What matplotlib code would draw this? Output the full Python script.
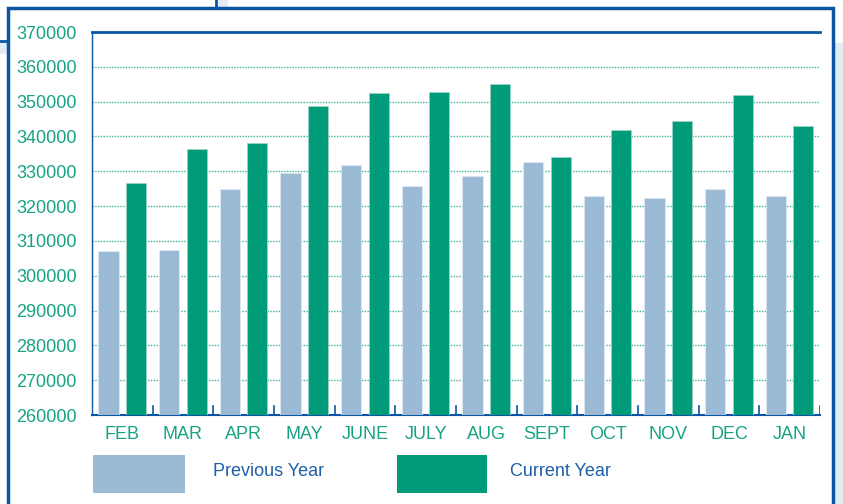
import matplotlib
matplotlib.use('Agg')
import matplotlib.pyplot as plt
import matplotlib.patches as mpatches
from matplotlib.lines import Line2D
import numpy as np

plt.rcParams['font.family'] = ['Liberation Sans', 'DejaVu Sans']

months = ['FEB', 'MAR', 'APR', 'MAY', 'JUNE', 'JULY', 'AUG', 'SEPT',
          'OCT', 'NOV', 'DEC', 'JAN']
previous_year = [307100, 307300, 324900, 329500, 331800, 325800,
                 328700, 332600, 322900, 322400, 324900, 322900]
current_year = [326700, 336400, 338200, 348800, 352500, 352800,
                355100, 334100, 341900, 344500, 352000, 343000]
y_ticks = list(range(260000, 370001, 10000))

PREV_C = '#9bbad6'
CURR_C = '#009b78'
TEXT_G = '#17a383'
BLUE = '#0a56a3'

fig = plt.figure(figsize=(8.43, 5.04), dpi=100)
W, H = 843, 504


def fx(px):
    return px / W


def fy(py):
    return 1 - py / H


# page fragments around the frame
fig.patches.append(mpatches.Rectangle((fx(835), 0), fx(8), fy(43), transform=fig.transFigure,
                                      facecolor='#e3ecf5', edgecolor='none', zorder=0))
fig.patches.append(mpatches.Rectangle((fx(0), fy(54)), fx(7), 13 / H, transform=fig.transFigure,
                                      facecolor='#e3ecf5', edgecolor='none', zorder=0))
fig.patches.append(mpatches.Rectangle((fx(218), fy(7)), fx(10), 7 / H, transform=fig.transFigure,
                                      facecolor='#e3ecf5', edgecolor='none', zorder=0))
fig.lines.append(Line2D([fx(0), fx(8)], [fy(41), fy(41)], transform=fig.transFigure,
                        color=BLUE, lw=2))
fig.lines.append(Line2D([fx(216), fx(216)], [fy(0), fy(7)], transform=fig.transFigure,
                        color=BLUE, lw=2))

# outer frame
fig.patches.append(mpatches.Rectangle((fx(8), fy(520)), fx(825), (520 - 8) / H,
                                      transform=fig.transFigure, facecolor='white',
                                      edgecolor=BLUE, lw=2.5, zorder=1))

ax = fig.add_axes([fx(92), fy(415), fx(728), (415 - 32) / H])
ax.set_zorder(2)
ax.patch.set_alpha(0)

x = np.arange(len(months))
bw = 0.33
ax.bar(x - 0.228, [v - 260000 for v in previous_year], bw, bottom=260000,
       color=PREV_C, edgecolor='#dde8f1', lw=0.6, zorder=3)
ax.bar(x + 0.225, [v - 260000 for v in current_year], bw, bottom=260000,
       color=CURR_C, edgecolor='#9ed4c6', lw=0.6, zorder=3)

ax.set_xlim(-0.5, len(months) - 0.5)
ax.set_ylim(260000, 370000)
ax.set_yticks(y_ticks)
ax.set_yticklabels([str(v) for v in y_ticks], color=TEXT_G, fontsize=13)
ax.tick_params(axis='y', length=0, pad=11)
ax.set_xticks(x)
ax.set_xticklabels(months, color=TEXT_G, fontsize=13)
ax.tick_params(axis='x', length=0, pad=8)

for v in y_ticks[1:-1]:
    ax.axhline(v, color='#3cb596', lw=1.0, ls=(0, (1, 1)), zorder=1)

# small blue ticks at group boundaries
for b in np.arange(0.5, len(months), 1.0):
    ax.plot([b, b], [260000, 262500], color=BLUE, lw=1.2, zorder=4)

ax.spines['right'].set_visible(False)
ax.spines['top'].set_color(BLUE)
ax.spines['top'].set_linewidth(2)
ax.spines['left'].set_color(BLUE)
ax.spines['left'].set_linewidth(1)
ax.spines['bottom'].set_color(BLUE)
ax.spines['bottom'].set_linewidth(1.5)

# legend
fig.patches.append(mpatches.Rectangle((fx(93), fy(493)), fx(92), 38 / H,
                                      transform=fig.transFigure, facecolor=PREV_C,
                                      edgecolor='none', zorder=3))
fig.patches.append(mpatches.Rectangle((fx(397), fy(493)), fx(90), 38 / H,
                                      transform=fig.transFigure, facecolor=CURR_C,
                                      edgecolor='none', zorder=3))
fig.text(fx(213), fy(471), 'Previous Year', color='#1e5fa8', fontsize=13,
         va='center', ha='left', zorder=3)
fig.text(fx(510), fy(471), 'Current Year', color='#1e5fa8', fontsize=13,
         va='center', ha='left', zorder=3)

fig.savefig('out.png', dpi=100)
